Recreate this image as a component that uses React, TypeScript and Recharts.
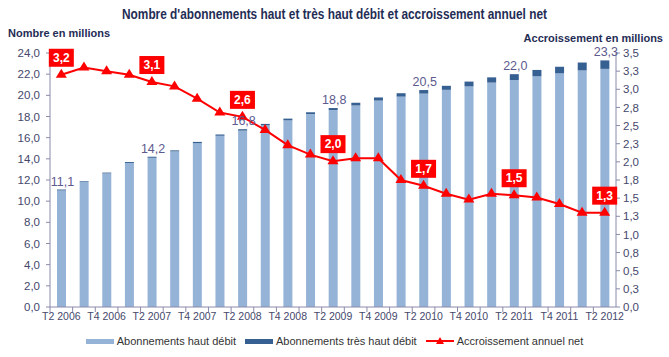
import { Bar, ComposedChart, LabelList, Line, XAxis, YAxis } from 'recharts'

const QUARTERS = [
  'T2 2006', 'T3 2006', 'T4 2006', 'T1 2007', 'T2 2007', 'T3 2007', 'T4 2007',
  'T1 2008', 'T2 2008', 'T3 2008', 'T4 2008', 'T1 2009', 'T2 2009', 'T3 2009',
  'T4 2009', 'T1 2010', 'T2 2010', 'T3 2010', 'T4 2010', 'T1 2011', 'T2 2011',
  'T3 2011', 'T4 2011', 'T1 2012', 'T2 2012',
]

// total subscriptions (haut + très haut débit), millions
const TOTAL_SUBSCRIPTIONS = [
  11.1, 11.9, 12.7, 13.7, 14.2, 14.8, 15.6, 16.3, 16.8, 17.3, 17.8, 18.4, 18.8,
  19.3, 19.8, 20.2, 20.5, 20.9, 21.3, 21.7, 22.0, 22.4, 22.7, 23.1, 23.3,
]

// très haut débit part, millions
const VERY_HIGH_SPEED = [
  0.08, 0.06, 0.08, 0.09, 0.1, 0.1, 0.11, 0.12, 0.13, 0.14, 0.16, 0.18, 0.2,
  0.26, 0.3, 0.32, 0.34, 0.38, 0.45, 0.5, 0.55, 0.6, 0.62, 0.75, 0.8,
]

// accroissement annuel net, millions
const NET_GROWTH = [
  3.2, 3.3, 3.25, 3.2, 3.1, 3.04, 2.87, 2.68, 2.62, 2.44, 2.23, 2.1, 2.01,
  2.05, 2.05, 1.75, 1.67, 1.56, 1.48, 1.56, 1.54, 1.51, 1.42, 1.3, 1.3,
]

const LEFT_TICKS = [0, 2, 4, 6, 8, 10, 12, 14, 16, 18, 20, 22, 24]
const RIGHT_TICKS = [0, 0.25, 0.5, 0.75, 1, 1.25, 1.5, 1.75, 2, 2.25, 2.5, 2.75, 3, 3.25, 3.5]
const LABEL_EVERY = 4

const HD_COLOR = '#95b3d7'
const THD_COLOR = '#376092'
const GROWTH_COLOR = '#ff0000'
const AXIS_COLOR = '#8a8aaa'
const TICK_COLOR = '#45486b'
const TITLE_COLOR = '#1f2d55'
const BAR_LABEL_COLOR = '#5d5a8e'
const FONT = '"Liberation Sans", Arial, sans-serif'

const W = 669
const H = 357
const MARGIN = { top: 53, right: 8, bottom: 28, left: 0 }
const LEFT_AXIS_W = 50
const RIGHT_AXIS_W = 45
const BAND = (W - MARGIN.left - MARGIN.right - LEFT_AXIS_W - RIGHT_AXIS_W) / QUARTERS.length

const data = QUARTERS.map((quarter, i) => ({
  quarter,
  hd: +(TOTAL_SUBSCRIPTIONS[i] - VERY_HIGH_SPEED[i]).toFixed(2),
  thd: VERY_HIGH_SPEED[i],
  total: TOTAL_SUBSCRIPTIONS[i],
  growth: NET_GROWTH[i],
}))

const fmt = (v: number) => v.toFixed(1).replace('.', ',')

function QuarterTick(props: any) {
  const { x, y, payload } = props
  const index = props.index ?? payload.index
  const left = x - BAND / 2
  return (
    <g>
      <line x1={left} x2={left} y1={y - 6} y2={y - 1} stroke={AXIS_COLOR} />
      {index % 2 === 0 && (
        <text x={x} y={y} dy="0.71em" textAnchor="middle" fill={TICK_COLOR} fontSize={10.5} fontFamily={FONT}>
          {payload.value}
        </text>
      )}
    </g>
  )
}

function TriangleDot(props: any) {
  const { cx, cy } = props
  if (cx == null || cy == null) return null
  return <path d={`M${cx},${cy - 6}L${cx + 5.5},${cy + 3}L${cx - 5.5},${cy + 3}Z`} fill={GROWTH_COLOR} />
}

function GrowthLabel(props: any) {
  const { x, y, value, index } = props
  if (index % LABEL_EVERY !== 0) return null
  return (
    <g>
      <rect x={x - 12.5} y={y - 26} width={25} height={18} fill={GROWTH_COLOR} />
      <text x={x} y={y - 13} textAnchor="middle" fill="#fff" fontSize={12} fontWeight="bold" fontFamily={FONT}>
        {fmt(value)}
      </text>
    </g>
  )
}

function TotalLabel(props: any) {
  const { x, y, width, value, index } = props
  if (index % LABEL_EVERY !== 0) return null
  return (
    <text x={x + width / 2 + 1} y={y - 4} textAnchor="middle" fill={BAR_LABEL_COLOR} fontSize={12.5} fontFamily={FONT}>
      {fmt(value)}
    </text>
  )
}

function LegendBar({ color, label }: { color: string; label: string }) {
  return (
    <div style={{ display: 'flex', alignItems: 'center', marginRight: 9 }}>
      <div style={{ width: 28, height: 5, background: color, marginRight: 3 }} />
      <span>{label}</span>
    </div>
  )
}

export default function App() {
  return (
    <div style={{ position: 'absolute', left: 0, top: 0, width: W, height: H, background: '#fff', fontFamily: FONT }}>
      <div
        style={{
          position: 'absolute', top: 5, left: 0, width: W, textAlign: 'center',
          fontSize: 15, fontWeight: 'bold', color: TITLE_COLOR, transform: 'scaleX(0.79)',
        }}
      >
        Nombre d'abonnements haut et très haut débit et accroissement annuel net
      </div>
      <div style={{ position: 'absolute', top: 27, left: 8, fontSize: 11, fontWeight: 'bold', color: TITLE_COLOR }}>
        Nombre en millions
      </div>
      <div style={{ position: 'absolute', top: 32, right: 6, fontSize: 11, fontWeight: 'bold', color: TITLE_COLOR }}>
        Accroissement en millions
      </div>

      <ComposedChart width={W} height={H} data={data} margin={MARGIN} barCategoryGap={0}>
        <XAxis
          dataKey="quarter"
          interval={0}
          height={22}
          tickSize={5}
          tickMargin={1}
          tickLine={false}
          stroke={AXIS_COLOR}
          tick={<QuarterTick />}
        />
        <YAxis
          yAxisId="left"
          domain={[0, 24]}
          ticks={LEFT_TICKS}
          tickFormatter={fmt}
          width={LEFT_AXIS_W}
          tickSize={4}
          tickMargin={6}
          stroke={AXIS_COLOR}
          tick={{ fill: TICK_COLOR, fontSize: 11.5, fontFamily: FONT }}
        />
        <YAxis
          yAxisId="right"
          orientation="right"
          domain={[0, 3.5]}
          ticks={RIGHT_TICKS}
          tickFormatter={fmt}
          width={RIGHT_AXIS_W}
          tickSize={4}
          tickMargin={3}
          stroke={AXIS_COLOR}
          tick={{ fill: TICK_COLOR, fontSize: 11.5, fontFamily: FONT }}
        />
        <Bar yAxisId="left" dataKey="hd" stackId="subs" fill={HD_COLOR} barSize={9} isAnimationActive={false} />
        <Bar yAxisId="left" dataKey="thd" stackId="subs" fill={THD_COLOR} barSize={9} isAnimationActive={false}>
          <LabelList dataKey="total" content={<TotalLabel />} />
        </Bar>
        <Line
          yAxisId="right"
          dataKey="growth"
          stroke={GROWTH_COLOR}
          strokeWidth={2}
          dot={<TriangleDot />}
          activeDot={false}
          isAnimationActive={false}
        >
          <LabelList dataKey="growth" content={<GrowthLabel />} />
        </Line>
      </ComposedChart>

      <div
        style={{
          position: 'absolute', top: 335, left: 0, width: W, display: 'flex',
          justifyContent: 'center', fontSize: 11, color: '#333',
        }}
      >
        <LegendBar color={HD_COLOR} label="Abonnements haut débit" />
        <LegendBar color={THD_COLOR} label="Abonnements très haut débit" />
        <div style={{ display: 'flex', alignItems: 'center' }}>
          <svg width={28} height={10} style={{ marginRight: 3 }}>
            <line x1={0} x2={28} y1={5} y2={5} stroke={GROWTH_COLOR} strokeWidth={2} />
            <path d="M14,1L18,8L10,8Z" fill={GROWTH_COLOR} />
          </svg>
          <span>Accroissement annuel net</span>
        </div>
      </div>
    </div>
  )
}
